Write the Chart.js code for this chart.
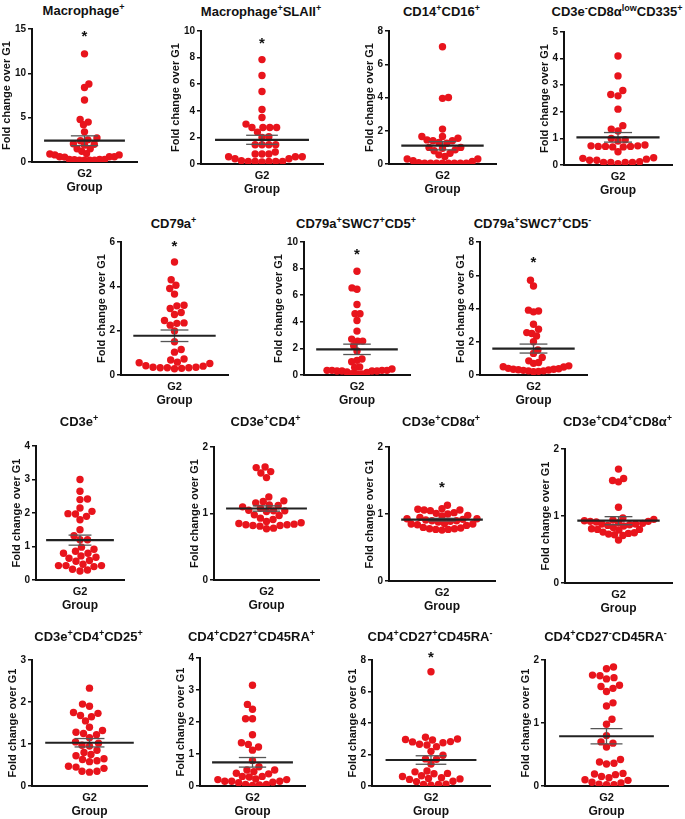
<!DOCTYPE html>
<html>
<head>
<meta charset="utf-8">
<script src="https://cdn.jsdelivr.net/npm/chart.js@4.4.1/dist/chart.umd.min.js"></script>
<style>
body { margin: 0; background: #fff; }
#fig { position: relative; width: 685px; height: 819px; overflow: hidden; }
.ttl { position: absolute; transform: translate(-50%, -50%); white-space: nowrap;
  font: bold 13px "Liberation Sans", Arial, sans-serif; color: #111; }
.ttl sup { font-size: 9px; line-height: 0; vertical-align: 5px; }
canvas { position: absolute; }
</style>
</head>
<body>
<div id="fig"></div>
<script>
// panel titles (superscripts as markup)
const titles = [
  'Macrophage<sup>+</sup>',
  'Macrophage<sup>+</sup>SLAII<sup>+</sup>',
  'CD14<sup>+</sup>CD16<sup>+</sup>',
  'CD3e<sup>-</sup>CD8α<sup>low</sup>CD335<sup>+</sup>',
  'CD79a<sup>+</sup>',
  'CD79a<sup>+</sup>SWC7<sup>+</sup>CD5<sup>+</sup>',
  'CD79a<sup>+</sup>SWC7<sup>+</sup>CD5<sup>-</sup>',
  'CD3e<sup>+</sup>',
  'CD3e<sup>+</sup>CD4<sup>+</sup>',
  'CD3e<sup>+</sup>CD8α<sup>+</sup>',
  'CD3e<sup>+</sup>CD4<sup>+</sup>CD8α<sup>+</sup>',
  'CD3e<sup>+</sup>CD4<sup>+</sup>CD25<sup>+</sup>',
  'CD4<sup>+</sup>CD27<sup>+</sup>CD45RA<sup>+</sup>',
  'CD4<sup>+</sup>CD27<sup>+</sup>CD45RA<sup>-</sup>',
  'CD4<sup>+</sup>CD27<sup>-</sup>CD45RA<sup>-</sup>'
];
const category = 'G2';
const yMax  = [15, 10, 8, 5, 6, 10, 8, 4, 2, 2, 2, 3, 4, 8, 2];
const yStep = [5, 2, 2, 1, 2, 2, 2, 1, 1, 1, 1, 1, 1, 2, 1];

// fold change over G1, one array per panel
const fc1  = [12.2, 8.8, 8.4, 7.0, 4.8, 4.5, 4.2, 3.4, 2.7, 2.5, 2.4, 2.05, 2.0, 1.9, 1.5, 1.5, 1.2, 0.95, 0.9, 0.8, 0.8, 0.6, 0.6, 0.6, 0.55, 0.3, 0.3, 0.3, 0.25, 0.2, 0.2, 0.2, 0.2];
const fc2  = [7.85, 6.65, 5.45, 4.1, 3.5, 3.0, 2.75, 2.75, 2.75, 2.75, 2.4, 2.05, 2.0, 1.45, 1.45, 1.45, 1.45, 0.9, 0.75, 0.75, 0.75, 0.55, 0.55, 0.55, 0.4, 0.4, 0.2, 0.15, 0.2, 0.2, 0.2, 0.2, 0.25];
const fc3  = [7.05, 4.0, 3.95, 2.1, 1.65, 1.65, 1.55, 1.45, 1.4, 1.4, 1.3, 1.25, 1.0, 1.0, 0.95, 0.85, 0.8, 0.65, 0.55, 0.45, 0.3, 0.3, 0.2, 0.15, 0.08, 0.05, 0.05, 0.05, 0.05, 0.05, 0.05, 0.05, 0.05];
const fc4  = [4.1, 3.35, 2.8, 2.65, 2.6, 2.1, 1.48, 1.35, 1.28, 1.0, 0.95, 0.9, 0.75, 0.72, 0.7, 0.7, 0.7, 0.68, 0.68, 0.72, 0.5, 0.27, 0.25, 0.22, 0.18, 0.18, 0.1, 0.1, 0.1, 0.1, 0.12, 0.05];
const fc5  = [5.1, 4.3, 4.05, 3.9, 3.65, 3.15, 3.12, 3.0, 2.82, 2.73, 2.46, 2.35, 2.33, 2.25, 1.99, 1.5, 1.15, 1.03, 0.72, 0.68, 0.58, 0.55, 0.52, 0.42, 0.4, 0.35, 0.35, 0.33, 0.33, 0.33, 0.3, 0.28];
const fc6  = [7.8, 6.55, 6.45, 5.3, 4.6, 4.6, 4.1, 3.3, 2.7, 2.55, 2.55, 2.2, 1.8, 1.2, 1.1, 1.0, 0.6, 0.57, 0.45, 0.35, 0.35, 0.35, 0.35, 0.3, 0.3, 0.3, 0.3, 0.22, 0.2, 0.1, 0.08, 0.08];
const fc7  = [5.7, 5.35, 3.9, 3.85, 3.8, 3.05, 2.75, 2.55, 2.5, 2.35, 2.0, 1.5, 1.3, 1.05, 0.85, 0.75, 0.7, 0.55, 0.5, 0.48, 0.4, 0.38, 0.35, 0.35, 0.32, 0.3, 0.28, 0.25, 0.25, 0.22, 0.2];
const fc8  = [3.0, 2.65, 2.42, 2.4, 2.15, 2.05, 1.98, 1.97, 1.9, 1.8, 1.5, 1.32, 1.2, 1.2, 0.98, 0.92, 0.86, 0.8, 0.8, 0.72, 0.68, 0.65, 0.58, 0.56, 0.47, 0.43, 0.43, 0.43, 0.4, 0.32, 0.3, 0.27];
const fc9  = [1.7, 1.69, 1.63, 1.61, 1.54, 1.25, 1.19, 1.18, 1.16, 1.13, 1.12, 1.1, 1.08, 1.05, 1.04, 1.04, 1.03, 0.98, 0.97, 0.93, 0.91, 0.88, 0.86, 0.85, 0.84, 0.83, 0.83, 0.82, 0.82, 0.81, 0.78, 0.77];
const fc10 = [1.13, 1.08, 1.07, 1.06, 1.06, 1.05, 1.02, 1.01, 1.0, 0.98, 0.97, 0.95, 0.93, 0.93, 0.92, 0.91, 0.9, 0.9, 0.89, 0.88, 0.86, 0.85, 0.85, 0.84, 0.83, 0.8, 0.79, 0.78, 0.78, 0.77, 0.77, 0.76];
const fc11 = [1.7, 1.56, 1.53, 1.51, 1.13, 0.97, 0.95, 0.94, 0.93, 0.92, 0.92, 0.91, 0.9, 0.89, 0.88, 0.88, 0.87, 0.86, 0.85, 0.83, 0.81, 0.8, 0.8, 0.79, 0.76, 0.75, 0.74, 0.73, 0.72, 0.71, 0.64];
const fc12 = [2.33, 1.95, 1.9, 1.75, 1.73, 1.68, 1.65, 1.55, 1.4, 1.32, 1.28, 1.25, 1.22, 1.15, 1.05, 1.02, 0.97, 0.95, 0.85, 0.8, 0.75, 0.72, 0.65, 0.63, 0.6, 0.58, 0.47, 0.45, 0.42, 0.35, 0.35, 0.33];
const fc13 = [3.15, 2.55, 2.4, 2.1, 2.1, 1.6, 1.35, 1.3, 1.22, 1.12, 0.8, 0.6, 0.5, 0.5, 0.45, 0.4, 0.38, 0.3, 0.3, 0.28, 0.22, 0.2, 0.2, 0.15, 0.15, 0.15, 0.12, 0.1, 0.05, 0.05, 0.03, 0.02];
const fc14 = [7.25, 3.1, 2.98, 2.95, 2.92, 2.82, 2.8, 2.75, 2.65, 2.6, 2.5, 2.2, 1.95, 1.72, 1.7, 1.4, 0.95, 0.9, 0.8, 0.78, 0.65, 0.6, 0.52, 0.48, 0.45, 0.42, 0.3, 0.28, 0.12, 0.1, 0.1, 0.05];
const fc15 = [1.89, 1.86, 1.76, 1.75, 1.72, 1.7, 1.6, 1.58, 1.55, 1.5, 1.32, 1.27, 1.06, 0.98, 0.8, 0.7, 0.68, 0.62, 0.42, 0.38, 0.36, 0.35, 0.2, 0.19, 0.18, 0.15, 0.13, 0.1, 0.09, 0.06, 0.05, 0.03, 0.02, 0.02];
const series = [fc1, fc2, fc3, fc4, fc5, fc6, fc7, fc8, fc9, fc10, fc11, fc12, fc13, fc14, fc15];

// mean +/- SEM as drawn
const means = [2.4, 1.82, 1.1, 1.04, 1.77, 1.93, 1.59, 1.19, 1.075, 0.915, 0.93, 1.03, 0.74, 1.65, 0.79];
const sems  = [0.55, 0.34, 0.25, 0.18, 0.26, 0.39, 0.27, 0.15, 0.04, 0.02, 0.06, 0.1, 0.15, 0.27, 0.12];
// significance marker heights (null = none)
const stars = [14.6, 9.4, null, null, 6.0, 9.35, 7.0, null, null, 1.45, null, null, null, 8.4, null];

// page layout: y-axis x, top tick y, zero y, x-axis end, title y
const layout = [
  [32, 29, 162, 137, 10], [201, 31, 164, 323, 11], [389, 31, 164, 496, 11], [564, 32, 165, 672, 11],
  [121, 242, 375, 228, 223], [304, 242, 375, 410, 223], [480, 242, 375, 587, 223],
  [36, 446, 580, 124, 421], [214, 447, 580, 319, 421], [389, 447, 581, 495, 421], [565, 449, 583, 672, 421],
  [32, 660, 786, 147, 636], [200, 658, 786, 305, 636], [372, 660, 786, 490, 636], [545, 660, 786, 668, 636]
];

const FONT = '"Liberation Sans", Arial, sans-serif';
const RED = '#e8141c';
const YW = 34, XH = 38, PT = 14, PR = 4;
const DOT_R = 3.7;
const SPREAD = 0.66;

// simple beeswarm: spread points sideways so dots don't overlap,
// then squeeze the swarm to fit inside the mean line width
function swarm(vals, ymax, w, h) {
  const d = DOT_R * 1.95;
  const placed = [];
  const xs = new Array(vals.length);
  const order = vals.map((v, i) => ({ v, i })).sort((a, b) => a.v - b.v);
  order.forEach((p, n) => {
    const py = p.v / ymax * h;
    let best = null;
    for (let k = 0; k < 400 && best === null; k++) {
      const cands = k === 0 ? [0] : (n % 2 ? [k * 0.5, -k * 0.5] : [-k * 0.5, k * 0.5]);
      for (const cx of cands) {
        if (placed.every(q => Math.hypot(q.x - cx, q.y - py) >= d)) { best = cx; break; }
      }
    }
    placed.push({ x: best, y: py });
    xs[p.i] = best / (w / 2);
  });
  const wide = Math.max(...xs.map(Math.abs));
  const k = wide > SPREAD ? SPREAD / wide : 1;
  return xs.map(x => x * k);
}

function seg(x0, x1, y0, y1, width, color) {
  return {
    data: [{ x: x0, y: y0 }, { x: x1, y: y1 }],
    showLine: true, pointRadius: 0, borderColor: color, borderWidth: width, order: 1
  };
}

const fig = document.getElementById('fig');

series.forEach((vals, i) => {
  const [ax, ty, zy, xe, tY] = layout[i];
  const plotW = xe - ax, plotH = zy - ty;

  const t = document.createElement('div');
  t.className = 'ttl';
  t.innerHTML = titles[i];
  t.style.left = ((ax + xe) / 2 - 1) + 'px';
  t.style.top = tY + 'px';
  fig.appendChild(t);

  const cv = document.createElement('canvas');
  cv.width = plotW + YW + PR;
  cv.height = plotH + PT + XH;
  cv.style.left = (ax - YW) + 'px';
  cv.style.top = (ty - PT) + 'px';
  fig.appendChild(cv);

  const xs = swarm(vals, yMax[i], plotW, plotH);
  const m = means[i], s = sems[i];
  const labelGap = yMax[i] >= 10 ? 25.5 : 19.5;

  new Chart(cv, {
    type: 'scatter',
    data: {
      datasets: [
        { data: vals.map((v, k) => ({ x: xs[k], y: v })), backgroundColor: RED, borderWidth: 0, pointRadius: DOT_R, order: 2 },
        seg(-0.77, 0.77, m, m, 2.2, '#222'),
        seg(0, 0, m - s, m + s, 1.3, '#555'),
        seg(-0.26, 0.26, m + s, m + s, 1.3, '#555'),
        seg(-0.26, 0.26, m - s, m - s, 1.3, '#555')
      ]
    },
    options: {
      responsive: false,
      animation: false,
      events: [],
      layout: { padding: { top: PT, right: PR, left: 0, bottom: 0 } },
      plugins: { legend: { display: false }, tooltip: { enabled: false } },
      scales: {
        x: {
          type: 'linear', min: -1, max: 1,
          afterFit: sc => { sc.height = XH; },
          grid: { display: true, drawOnChartArea: false, drawTicks: true, tickLength: 4, color: 'rgba(0,0,0,0)' },
          border: { display: true, color: '#111', width: 2 },
          ticks: {
            stepSize: 1, autoSkip: false, maxRotation: 0, padding: 1.5, color: '#111',
            font: { family: FONT, weight: 'bold', size: 11 },
            callback: v => (v === 0 ? category : '')
          },
          title: { display: true, text: 'Group', color: '#111', font: { family: FONT, weight: 'bold', size: 12 }, padding: { top: 0, bottom: 4.8 } }
        },
        y: {
          min: 0, max: yMax[i],
          afterFit: sc => { sc.width = YW; },
          grid: { display: true, drawOnChartArea: false, drawTicks: true, tickLength: 4, color: '#111', lineWidth: 1.5 },
          border: { color: '#111', width: 2 },
          ticks: { stepSize: yStep[i], padding: 2, color: '#111', font: { family: FONT, weight: 'bold', size: 10 } },
          title: {
            display: true, text: 'Fold change over G1', color: '#111',
            font: { family: FONT, weight: 'bold', size: 11 },
            padding: { top: YW - 6.6 - labelGap, bottom: 0 }
          }
        }
      }
    },
    plugins: [{
      id: 'star' + i,
      afterDraw(chart) {
        if (stars[i] === null) return;
        const c = chart.ctx;
        const px = chart.scales.x.getPixelForValue(0);
        const py = chart.scales.y.getPixelForValue(stars[i]);
        c.save();
        c.fillStyle = '#111';
        c.font = 'bold 15px ' + FONT;
        c.textAlign = 'center';
        c.textBaseline = 'alphabetic';
        c.fillText('*', px, py + 8.6);
        c.restore();
      }
    }]
  });
});
</script>
</body>
</html>
